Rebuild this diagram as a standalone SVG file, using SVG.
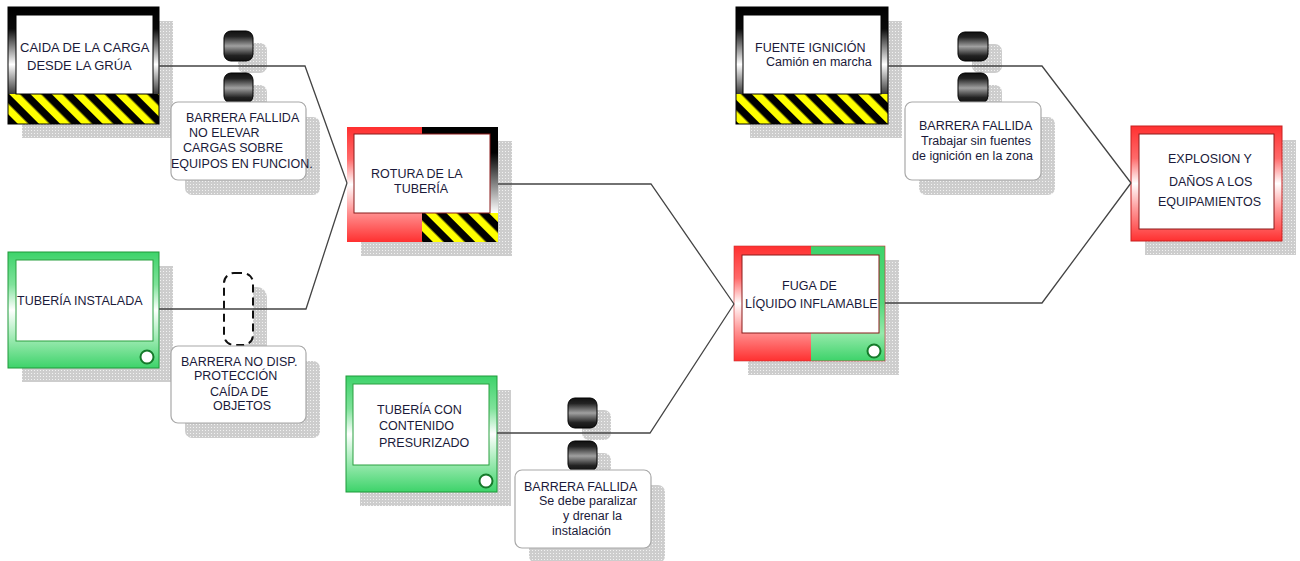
<svg xmlns="http://www.w3.org/2000/svg" width="1300" height="561" viewBox="0 0 1300 561">
<style>
.t{font-family:"Liberation Sans",Arial,sans-serif;font-size:12.5px;fill:#1a1a3a}
.t13{font-size:13px}
.sh{fill:url(#dots)}
.inB{fill:#fff;stroke:#000;stroke-width:1}
.inR{fill:#fff;stroke:#8b1a1a;stroke-width:1}
.inG{fill:#fff;stroke:#2aa040;stroke-width:1}
.cyl{fill:url(#gCyl);stroke:#000;stroke-width:1}
.lbl{fill:#fff;stroke:#a8a8a8;stroke-width:1.2}
.dot{fill:#fff;stroke:#157a2a;stroke-width:2}
.con{fill:none;stroke:#444;stroke-width:1.3}
</style>
<defs>
<pattern id="dots" patternUnits="userSpaceOnUse" width="3" height="3">
<rect width="3" height="3" fill="#cdcdcd"/>
<rect x="1" y="1" width="1" height="1" fill="#f2f2f2"/>
</pattern>
<pattern id="stripes" patternUnits="userSpaceOnUse" width="15" height="15" patternTransform="rotate(-45)">
<rect width="15" height="15" fill="#000"/>
<rect width="7.5" height="15" fill="#ffff00"/>
</pattern>
<linearGradient id="gBlack" x1="0" y1="0" x2="0" y2="1">
<stop offset="0" stop-color="#000"/>
<stop offset="0.25" stop-color="#0a0a0a"/>
<stop offset="0.66" stop-color="#ffffff"/>
<stop offset="1" stop-color="#3a3a3a"/>
</linearGradient>
<linearGradient id="gBlackR" x1="0" y1="0" x2="0" y2="1">
<stop offset="0" stop-color="#000"/>
<stop offset="0.3" stop-color="#000"/>
<stop offset="1" stop-color="#ffffff"/>
</linearGradient>
<linearGradient id="gRed" x1="0" y1="0" x2="0" y2="1">
<stop offset="0" stop-color="#ff3030"/>
<stop offset="0.28" stop-color="#ff6a6a"/>
<stop offset="0.5" stop-color="#ffffff"/>
<stop offset="0.72" stop-color="#ff9a9a"/>
<stop offset="1" stop-color="#ff3030"/>
</linearGradient>
<linearGradient id="gGreen" x1="0" y1="0" x2="0" y2="1">
<stop offset="0" stop-color="#3dd36a"/>
<stop offset="0.28" stop-color="#7fe29a"/>
<stop offset="0.5" stop-color="#ffffff"/>
<stop offset="0.76" stop-color="#98e9ae"/>
<stop offset="1" stop-color="#3dd36a"/>
</linearGradient>
<linearGradient id="gGreen2" x1="0" y1="0" x2="0" y2="1">
<stop offset="0" stop-color="#3dd36a"/>
<stop offset="0.5" stop-color="#55d97c"/>
<stop offset="0.76" stop-color="#95e9aa"/>
<stop offset="1" stop-color="#3dd36a"/>
</linearGradient>
<linearGradient id="gCyl" x1="0" y1="0" x2="0" y2="1">
<stop offset="0" stop-color="#111"/>
<stop offset="0.18" stop-color="#222"/>
<stop offset="0.5" stop-color="#a0a0a0"/>
<stop offset="0.82" stop-color="#222"/>
<stop offset="1" stop-color="#111"/>
</linearGradient>
</defs>
<rect width="1300" height="561" fill="#fff"/>

<g id="node-caida">
<rect class="sh" x="22" y="21" width="151" height="117"/>
<rect x="8" y="7" width="151" height="87" fill="url(#gBlack)"/>
<rect x="8" y="94" width="151" height="30" fill="url(#stripes)"/>
<rect x="8" y="7" width="151" height="117" fill="none" stroke="#000"/>
<rect class="inB" x="16" y="15" width="137" height="79"/>
<text class="t t13" x="20" y="52">CAIDA DE LA CARGA</text>
<text class="t t13" x="27" y="70">DESDE LA GRÚA</text>
</g>

<g id="node-tuberia-instalada">
<rect class="sh" x="22" y="266" width="151" height="116"/>
<rect x="8" y="252" width="151" height="116" fill="url(#gGreen)" stroke="#1f9a3a"/>
<rect class="inG" x="16" y="260" width="137" height="81"/>
<circle class="dot" cx="147" cy="357" r="6.5"/>
<text class="t" x="17" y="305">TUBERÍA INSTALADA</text>
</g>

<g id="node-rotura">
<rect class="sh" x="361" y="141" width="151" height="115"/>
<rect x="347" y="127" width="75" height="115" fill="url(#gRed)"/>
<rect x="422" y="127" width="76" height="86" fill="url(#gBlackR)"/>
<rect x="422" y="213" width="76" height="29" fill="url(#stripes)"/>
<rect class="inR" x="354" y="134" width="136" height="79"/>
<text class="t" x="371" y="178">ROTURA DE LA</text>
<text class="t" x="394" y="193">TUBERÍA</text>
</g>

<g id="node-tuberia-con">
<rect class="sh" x="360" y="390" width="151" height="116"/>
<rect x="346" y="376" width="151" height="116" fill="url(#gGreen)" stroke="#1f9a3a"/>
<rect class="inG" x="353" y="384" width="136" height="81"/>
<circle class="dot" cx="486" cy="481" r="6.5"/>
<text class="t" x="377" y="414">TUBERÍA CON</text>
<text class="t" x="379" y="430">CONTENIDO</text>
<text class="t" x="379" y="447">PRESURIZADO</text>
</g>

<g id="node-fuga">
<rect class="sh" x="748" y="260" width="151" height="115"/>
<rect x="734" y="246" width="77" height="115" fill="url(#gRed)"/>
<rect x="811" y="246" width="74" height="115" fill="url(#gGreen2)"/>
<rect x="734" y="246" width="151" height="115" fill="none" stroke="#c83030" stroke-width="0.6"/>
<rect class="inR" x="742" y="255" width="137" height="78"/>
<circle class="dot" cx="874" cy="351" r="6.5"/>
<text class="t" x="782" y="290">FUGA DE</text>
<text class="t" x="745" y="308">LÍQUIDO INFLAMABLE</text>
</g>

<g id="node-fuente">
<rect class="sh" x="750" y="21" width="152" height="117"/>
<rect x="736" y="7" width="152" height="87" fill="url(#gBlack)"/>
<rect x="736" y="94" width="152" height="30" fill="url(#stripes)"/>
<rect x="736" y="7" width="152" height="117" fill="none" stroke="#000"/>
<rect class="inB" x="743" y="15" width="138" height="79"/>
<text class="t" x="755" y="52">FUENTE IGNICIÓN</text>
<text class="t" x="766" y="66">Camión en marcha</text>
</g>

<g id="node-explosion">
<rect class="sh" x="1145" y="140" width="151" height="115"/>
<rect x="1131" y="126" width="151" height="115" fill="url(#gRed)" stroke="#c82020"/>
<rect class="inR" x="1139" y="134" width="135" height="95"/>
<text class="t" x="1168" y="163">EXPLOSION Y</text>
<text class="t" x="1169" y="186">DAÑOS A LOS</text>
<text class="t" x="1158" y="206">EQUIPAMIENTOS</text>
</g>

<g id="barrier-1">
<rect class="sh" x="238" y="43" width="29" height="30" rx="7"/>
<rect class="sh" x="238" y="85" width="29" height="30" rx="7"/>
<rect class="cyl" x="224" y="31" width="29" height="30" rx="7"/>
<rect class="cyl" x="224" y="73" width="29" height="30" rx="7"/>
<rect class="sh" x="185" y="117" width="135" height="78" rx="7"/>
<rect class="lbl" x="171" y="102" width="135" height="78" rx="7"/>
<text class="t" x="186" y="122">BARRERA FALLIDA</text>
<text class="t" x="189" y="137">NO ELEVAR</text>
<text class="t" x="183" y="152">CARGAS SOBRE</text>
<text class="t" x="171" y="168">EQUIPOS EN FUNCION.</text>
</g>

<g id="barrier-2">
<rect class="sh" x="238" y="287" width="29" height="72" rx="10"/>
<rect x="224" y="273" width="29" height="72" rx="10" fill="#fff" stroke="#111" stroke-width="2" stroke-dasharray="8,5"/>
<rect class="sh" x="185" y="361" width="135" height="77" rx="7"/>
<rect class="lbl" x="171" y="346" width="135" height="77" rx="7"/>
<text class="t" x="181" y="366">BARRERA NO DISP.</text>
<text class="t" x="194" y="380">PROTECCIÓN</text>
<text class="t" x="210" y="396">CAÍDA DE</text>
<text class="t" x="213" y="410">OBJETOS</text>
</g>

<g id="barrier-3">
<rect class="sh" x="582" y="410" width="29" height="30" rx="7"/>
<rect class="sh" x="582" y="453" width="29" height="30" rx="7"/>
<rect class="cyl" x="568" y="398" width="29" height="30" rx="7"/>
<rect class="cyl" x="568" y="441" width="29" height="30" rx="7"/>
<rect class="sh" x="529" y="485" width="136" height="78" rx="7"/>
<rect class="lbl" x="515" y="470" width="136" height="78" rx="7"/>
<text class="t" x="524" y="491">BARRERA FALLIDA</text>
<text class="t" x="539" y="505">Se debe paralizar</text>
<text class="t" x="563" y="520">y drenar la</text>
<text class="t" x="552" y="535">instalación</text>
</g>

<g id="barrier-4">
<rect class="sh" x="972" y="44" width="30" height="29" rx="7"/>
<rect class="sh" x="972" y="85" width="30" height="30" rx="7"/>
<rect class="cyl" x="958" y="32" width="30" height="29" rx="7"/>
<rect class="cyl" x="958" y="73" width="30" height="30" rx="7"/>
<rect class="sh" x="919" y="117" width="136" height="78" rx="7"/>
<rect class="lbl" x="905" y="102" width="136" height="78" rx="7"/>
<text class="t" x="919" y="130">BARRERA FALLIDA</text>
<text class="t" x="921" y="145">Trabajar sin fuentes</text>
<text class="t" x="912" y="160">de ignición en la zona</text>
</g>

<g id="connectors">
<path class="con" d="M159,66 H305 L347,183"/>
<path class="con" d="M159,309 H306 L347,183"/>
<path class="con" d="M498,184 H651 L734,304"/>
<path class="con" d="M497,433 H650 L734,304"/>
<path class="con" d="M888,66 H1042 L1131,183"/>
<path class="con" d="M885,303 H1042 L1131,183"/>
</g>
</svg>
